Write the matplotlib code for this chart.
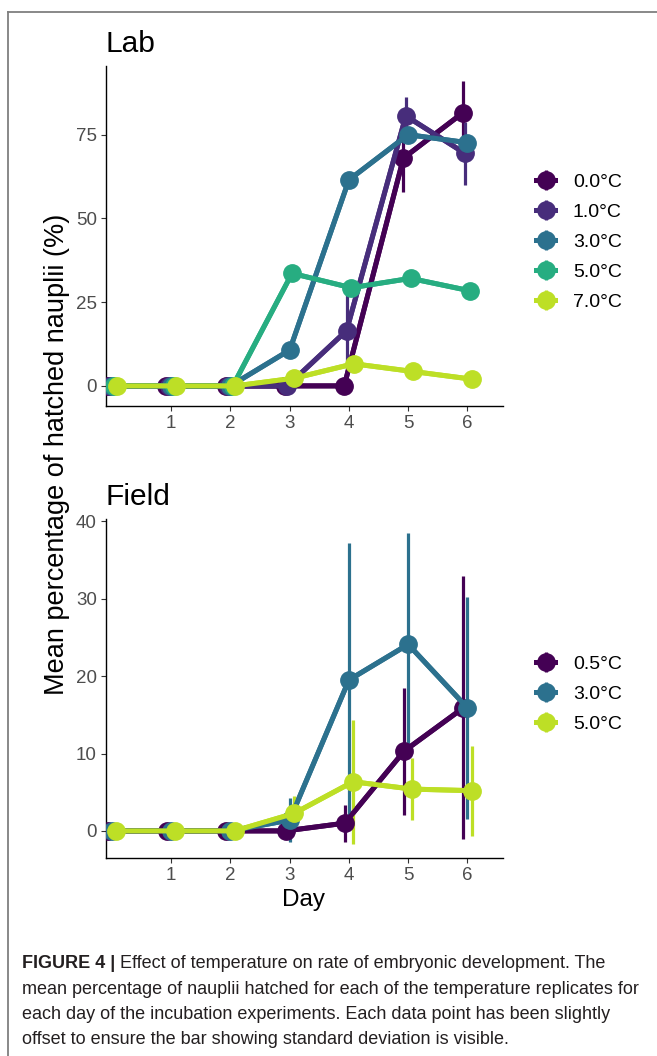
import matplotlib
matplotlib.use("Agg")
import matplotlib.pyplot as plt
from matplotlib.lines import Line2D
import numpy as np

plt.rcParams['font.family'] = ['Liberation Sans', 'DejaVu Sans']

days = np.array([0, 1, 2, 3, 4, 5, 6])

# Lab experiment: mean % hatched and standard deviation per temperature
lab_temps = ['0.0°C', '1.0°C', '3.0°C', '5.0°C', '7.0°C']
lab_colors = ['#440154', '#472d7b', '#2c718e', '#27ad81', '#bddf26']
lab_mean = [
    [0, 0, 0, 0, 0.0, 68.0, 81.5],
    [0, 0, 0, 0, 16.5, 80.6, 69.4],
    [0, 0, 0, 10.7, 61.5, 75.0, 72.6],
    [0, 0, 0, 33.6, 29.3, 32.1, 28.4],
    [0, 0, 0, 2.3, 6.6, 4.3, 2.0],
]
lab_sd = [
    [0, 0, 0, 0, 0, 10.0, 9.5],
    [0, 0, 0, 0, 12.0, 5.6, 9.5],
    [0, 0, 0, 1.0, 1.5, 1.5, 1.5],
    [0, 0, 0, 1.0, 1.5, 1.0, 1.0],
    [0, 0, 0, 0.5, 1.0, 1.0, 0.5],
]

# Field experiment
field_temps = ['0.5°C', '3.0°C', '5.0°C']
field_colors = ['#440154', '#2c718e', '#bddf26']
field_mean = [
    [0, 0, 0, 0.0, 1.0, 10.3, 15.9],
    [0, 0, 0, 1.4, 19.5, 24.1, 15.9],
    [0, 0, 0, 2.25, 6.35, 5.4, 5.2],
]
field_sd = [
    [0, 0, 0, 0, 2.4, 8.2, 17.0],
    [0, 0, 0, 2.8, 17.7, 14.4, 14.3],
    [0, 0, 0, 2.2, 8.0, 4.0, 5.8],
]

W, H = 657, 1056
fig = plt.figure(figsize=(W / 100, H / 100), dpi=100)


def fx(px):
    return px / W


def fy(py):
    return 1 - py / H


def panel(top, bottom, title, temps, colors, means, sds, ylim, yticks, offsets,
          legend_y):
    ax = fig.add_axes([fx(106), fy(bottom), fx(503) - fx(106), fy(top) - fy(bottom)])
    handles = []
    for i, (t, c) in enumerate(zip(temps, colors)):
        x = days + offsets[i]
        ax.plot(x, means[i], color=c, lw=3.6, zorder=2 + i * 0.01, solid_capstyle='butt')
    for i, (t, c) in enumerate(zip(temps, colors)):
        x = days + offsets[i]
        h = ax.errorbar(x, means[i], yerr=sds[i], fmt='-o', color=c, lw=3.6,
                        ms=12.5, elinewidth=2.3, capsize=0, zorder=3 + i * 0.01,
                        label=t)
        handles.append(h)
    ax.set_xlim(-0.1, 6.6)
    ax.set_ylim(*ylim)
    ax.set_xticks([1, 2, 3, 4, 5, 6])
    ax.set_yticks(yticks)
    for s in ['top', 'right']:
        ax.spines[s].set_visible(False)
    for s in ['left', 'bottom']:
        ax.spines[s].set_linewidth(1.0)
        ax.spines[s].set_color('black')
    ax.tick_params(length=3.5, width=0.8, color='#333333', labelsize=13.5,
                   labelcolor='#4d4d4d', pad=3)
    ax.text(0.0, 1.025, title, transform=ax.transAxes, fontsize=21.5,
            ha='left', va='bottom')
    fig.legend(handles=handles, labels=temps, loc='center left',
               bbox_to_anchor=(fx(536), fy(legend_y)), frameon=False,
               fontsize=14, handlelength=1.0, handletextpad=0.9,
               labelspacing=0.64, borderpad=0, borderaxespad=0)
    return ax


ax1 = panel(66, 406, 'Lab', lab_temps, lab_colors, lab_mean, lab_sd,
            (-6, 95.5), [0, 25, 50, 75], [-0.08, -0.04, 0, 0.04, 0.08], 242)
ax2 = panel(519, 858, 'Field', field_temps, field_colors, field_mean, field_sd,
            (-3.5, 40.3), [0, 10, 20, 30, 40], [-0.07, 0, 0.07], 694)

fig.text(fx(304), fy(900), 'Day', fontsize=17.5, ha='center', va='center')
fig.text(fx(57), fy(454), 'Mean percentage of hatched nauplii (%)', fontsize=19.5,
         rotation=90, ha='center', va='center')

# frame around the figure
fig.add_artist(Line2D([fx(8), 1], [fy(12), fy(12)], color='#7f7f7f', lw=1.3))
fig.add_artist(Line2D([fx(8), fx(8)], [fy(12), 0], color='#7f7f7f', lw=1.3))

# caption
cap_font = ['Liberation Sans Narrow', 'Liberation Sans', 'DejaVu Sans']
caption = [
    "Effect of temperature on rate of embryonic development. The",
    "mean percentage of nauplii hatched for each of the temperature replicates for",
    "each day of the incubation experiments. Each data point has been slightly",
    "offset to ensure the bar showing standard deviation is visible.",
]
bold = fig.text(fx(22), fy(963), 'FIGURE 4 | ', fontsize=13, fontweight='bold',
                family=cap_font, va='center', ha='left', color='#231f20')
fig.canvas.draw()
bb = bold.get_window_extent()
fig.text(bb.x1 / W, fy(963), caption[0], fontsize=13, family=cap_font,
         va='center', ha='left', color='#231f20')
for i, line in enumerate(caption[1:]):
    fig.text(fx(22), fy(989 + 25.5 * i), line, fontsize=13, family=cap_font,
             va='center', ha='left', color='#231f20')

fig.savefig('out.png', dpi=100)
